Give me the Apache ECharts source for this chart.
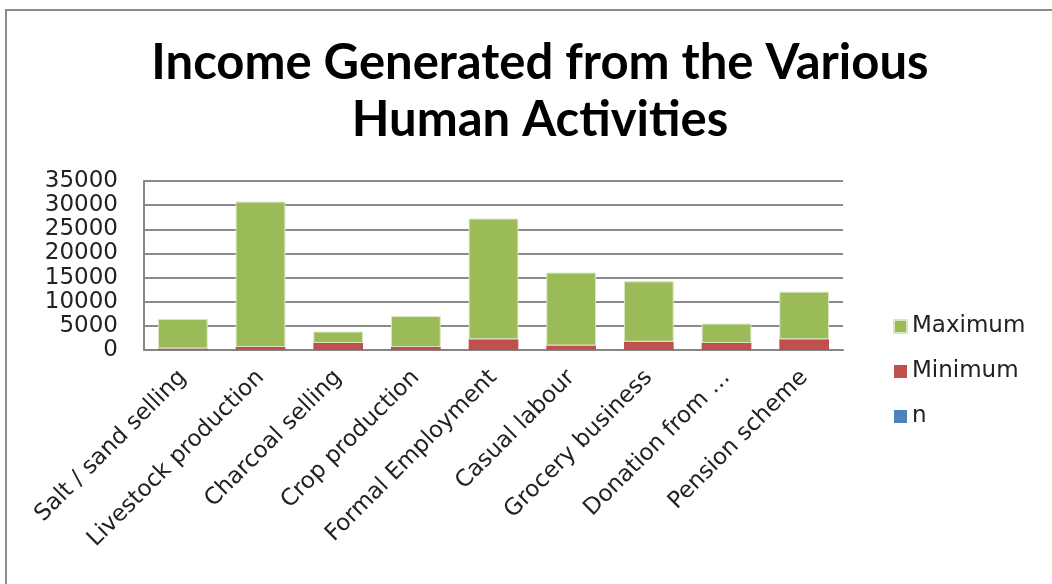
<!DOCTYPE html>
<html>
<head>
<meta charset="utf-8">
<script src="https://cdn.jsdelivr.net/npm/echarts@6/dist/echarts.min.js"></script>
<style>
  html, body { margin: 0; padding: 0; background: #fff; }
  #frame { position: absolute; left: 5px; top: 9px; width: 1100px; height: 620px; border: 2px solid #8c8c8c; box-sizing: border-box; }
  #chart { position: absolute; left: 0; top: 0; width: 1052px; height: 584px; }
</style>
</head>
<body>
<div id="frame"></div>
<div id="chart"></div>
<script>
const categories = ["Salt / sand selling", "Livestock production", "Charcoal selling", "Crop production",
  "Formal Employment", "Casual labour", "Grocery business", "Donation from \u2026", "Pension scheme"];
const nValues = [20, 30, 15, 25, 20, 30, 20, 15, 25];
const minimum = [300, 600, 1450, 600, 2200, 900, 1700, 1450, 2200];
const maximum = [6100, 30100, 2350, 6400, 25000, 15100, 12500, 4000, 9850];
const yTicks = [0, 5000, 10000, 15000, 20000, 25000, 30000, 35000];

var myChart = echarts.init(document.getElementById("chart"));
myChart.setOption({
  animation: false,
  title: {
    text: "Income Generated from the Various\nHuman Activi\u200Cties",
    left: 535,
    textAlign: "center",
    top: 30,
    textStyle: { fontFamily: "Lato", fontWeight: "bold", fontSize: 49, lineHeight: 57, color: "#000" }
  },
  legend: {
    orient: "vertical",
    left: 888,
    top: 310,
    itemWidth: 13,
    itemHeight: 13,
    itemGap: 22,
    icon: "rect",
    data: ["Maximum", "Minimum", "n"],
    textStyle: { fontFamily: "DejaVu Sans", fontSize: 23, color: "#222" }
  },
  grid: { left: 144, right: 209, top: 181, bottom: 234 },
  xAxis: {
    type: "category",
    data: categories,
    axisTick: { show: false },
    axisLine: { lineStyle: { color: "#868686", width: 2 } },
    axisLabel: {
      interval: 0,
      rotate: 45,
      margin: 24,
      fontFamily: "DejaVu Sans",
      fontSize: 23,
      color: "#222"
    }
  },
  yAxis: {
    type: "value",
    min: yTicks[0],
    max: yTicks[yTicks.length - 1],
    interval: 5000,
    axisLine: { show: true, lineStyle: { color: "#868686", width: 2 } },
    axisTick: { show: false },
    splitLine: { lineStyle: { color: "#8a8a8a", width: 2 } },
    axisLabel: { fontFamily: "DejaVu Sans", fontSize: 23, color: "#222", margin: 26,
      formatter: v => String(v) }
  },
  series: [
    { name: "n", type: "bar", stack: "a", barCategoryGap: "36%", data: nValues,
      itemStyle: { color: "#4F81BD" } },
    { name: "Minimum", type: "bar", stack: "a", data: minimum,
      itemStyle: { color: "#C0504D" } },
    { name: "Maximum", type: "bar", stack: "a", data: maximum,
      itemStyle: { color: "#9BBB59", borderColor: "#d8e6bf", borderWidth: 1 } }
  ]
});

window.addEventListener("resize", () => {
  myChart.resize();
});
</script>
</body>
</html>
